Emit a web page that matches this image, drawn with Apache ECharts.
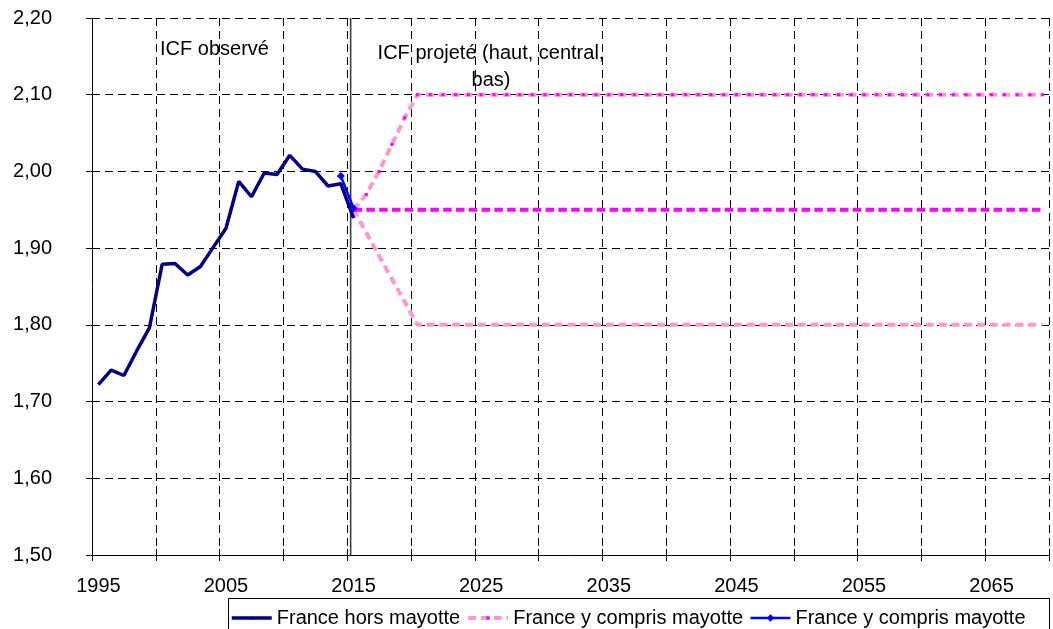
<!DOCTYPE html>
<html>
<head>
<meta charset="utf-8">
<script src="https://cdn.jsdelivr.net/npm/echarts@6/dist/echarts.min.js"></script>
<style>
html,body{margin:0;padding:0;background:#fff;}
#chart{width:1053px;height:629px;}
</style>
</head>
<body>
<div id="chart"></div>
<script>
// ---- Data ----
const categories = [
 '1995','1996','1997','1998','1999','2000','2001','2002','2003','2004',
 '2005','2006','2007','2008','2009','2010','2011','2012','2013','2014',
 '2015','2016','2017','2018','2019','2020','2021','2022','2023','2024',
 '2025','2026','2027','2028','2029','2030','2031','2032','2033','2034',
 '2035','2036','2037','2038','2039','2040','2041','2042','2043','2044',
 '2045','2046','2047','2048','2049','2050','2051','2052','2053','2054',
 '2055','2056','2057','2058','2059','2060','2061','2062','2063','2064',
 '2065','2066','2067','2068','2069'
];
const obsYears = [
 '1995','1996','1997','1998','1999','2000','2001','2002','2003','2004',
 '2005','2006','2007','2008','2009','2010','2011','2012','2013','2014','2015'
];
const franceHorsMayotte = [
 1.722,1.741,1.734,1.766,1.796,1.879,1.880,1.865,1.876,1.901,
 1.926,1.987,1.967,1.998,1.996,2.021,2.003,2.000,1.981,1.984,1.939
];
const mayotteYears = ['2014','2015'];
const franceYComprisMayotte = [1.994,1.952];

const projYears = categories.slice(20); // 2015..2069
const projHaut = [
 1.95,1.97,2.00,2.035,2.07,
 2.10,2.10,2.10,2.10,2.10,2.10,2.10,2.10,2.10,2.10,
 2.10,2.10,2.10,2.10,2.10,2.10,2.10,2.10,2.10,2.10,
 2.10,2.10,2.10,2.10,2.10,2.10,2.10,2.10,2.10,2.10,
 2.10,2.10,2.10,2.10,2.10,2.10,2.10,2.10,2.10,2.10,
 2.10,2.10,2.10,2.10,2.10,2.10,2.10,2.10,2.10,2.10
];
const projCentral = [
 1.95,1.95,1.95,1.95,1.95,
 1.95,1.95,1.95,1.95,1.95,1.95,1.95,1.95,1.95,1.95,
 1.95,1.95,1.95,1.95,1.95,1.95,1.95,1.95,1.95,1.95,
 1.95,1.95,1.95,1.95,1.95,1.95,1.95,1.95,1.95,1.95,
 1.95,1.95,1.95,1.95,1.95,1.95,1.95,1.95,1.95,1.95,
 1.95,1.95,1.95,1.95,1.95,1.95,1.95,1.95,1.95,1.95
];
const projBas = [
 1.95,1.92,1.89,1.86,1.83,
 1.80,1.80,1.80,1.80,1.80,1.80,1.80,1.80,1.80,1.80,
 1.80,1.80,1.80,1.80,1.80,1.80,1.80,1.80,1.80,1.80,
 1.80,1.80,1.80,1.80,1.80,1.80,1.80,1.80,1.80,1.80,
 1.80,1.80,1.80,1.80,1.80,1.80,1.80,1.80,1.80,1.80,
 1.80,1.80,1.80,1.80,1.80,1.80,1.80,1.80,1.80,1.80
];
const dividerYear = 2015.27;
const yRange = [1.5, 2.2];
const annotObserve = 'ICF observé';
const annotProjete = 'ICF projeté (haut, central,\nbas)';

const pairs = (xs, ys) => xs.map((x, i) => [x, ys[i]]);
const FONT = '"Liberation Sans", Arial, sans-serif';

const chart = echarts.init(document.getElementById('chart'), null, {renderer: 'canvas'});
const grid = {left: 92, right: 4, top: 18, bottom: 74};

chart.setOption({
  animation: false,
  backgroundColor: '#fff',
  grid: grid,
  xAxis: [
    {
      type: 'category', data: categories, boundaryGap: true,
      axisLine: {lineStyle: {color: '#000', width: 1}},
      axisTick: {show: true, interval: 4, length: 6, lineStyle: {color: '#000'}},
      axisLabel: {interval: 9, margin: 21, color: '#000', fontSize: 20, fontFamily: FONT},
      splitLine: {show: true, interval: 4, lineStyle: {color: '#000', width: 1, type: [8, 5]}}
    },
    {
      type: 'value', min: 1995, max: 2070, show: false
    },
    {
      type: 'category', data: categories, boundaryGap: true, position: 'bottom',
      axisLine: {show: false},
      axisTick: {show: true, inside: true, interval: 4, length: 6, lineStyle: {color: '#000'}},
      axisLabel: {show: false}, splitLine: {show: false}
    }
  ],
  yAxis: [
    {
      type: 'value', min: yRange[0], max: yRange[1], interval: 0.1,
      axisLine: {show: true, lineStyle: {color: '#000', width: 1}},
      axisTick: {show: true, length: 6, lineStyle: {color: '#000'}},
      axisLabel: {margin: 40, color: '#000', fontSize: 20, fontFamily: FONT,
        formatter: v => v.toFixed(2).replace('.', ',')},
      splitLine: {show: true, lineStyle: {color: '#000', width: 1, type: [8, 5]}}
    },
    {
      type: 'value', min: yRange[0], max: yRange[1], interval: 0.1, position: 'left',
      axisLine: {show: false}, axisLabel: {show: false}, splitLine: {show: false},
      axisTick: {show: true, inside: true, length: 6, lineStyle: {color: '#000'}}
    }
  ],
  legend: {
    left: 230, top: 598, right: 0,
    padding: [10, 0, 10, 0],
    itemGap: 6, itemWidth: 40, itemHeight: 4,
    textStyle: {color: '#000', fontSize: 20, fontFamily: FONT},
    data: [
      {name: 'France hors mayotte', lineStyle: {width: 3.5}},
      {name: 'France y compris mayotte', lineStyle: {width: 4}},
      {name: 'France y compris mayotte ', lineStyle: {width: 2.5},
       itemStyle: {borderColor: '#0000FF', borderWidth: 3}}
    ]
  },
  graphic: [
    {type: 'rect', shape: {x: 228.5, y: 598.5, width: 821, height: 40},
     style: {fill: 'none', stroke: '#000', lineWidth: 1}, silent: true},
    {type: 'text', left: 160, top: 39, style: {text: annotObserve, fill: '#000', font: '20px ' + FONT}},
    {type: 'text', x: 491, y: 40, style: {text: annotProjete, fill: '#000', font: '20px ' + FONT, align: 'center', lineHeight: 27}}
  ],
  series: [
    {
      name: 'Divider', type: 'line', xAxisIndex: 1, silent: true,
      data: [[dividerYear, yRange[0]], [dividerYear, yRange[1]]],
      symbol: 'none', lineStyle: {color: '#404040', width: 1.6}, z: 1
    },
    {
      name: '_bas', type: 'line', data: pairs(projYears, projBas),
      symbol: 'none', lineStyle: {color: '#FF99CC', width: 4, type: [8, 4.8]}, z: 2
    },
    {
      name: 'France y compris mayotte', type: 'line', data: pairs(projYears, projHaut),
      symbol: 'rect', symbolSize: 3, showSymbol: true,
      itemStyle: {color: '#FF00FF'},
      lineStyle: {color: '#FF99CC', width: 4, type: [8, 4.8]}, z: 3
    },
    {
      name: '_central', type: 'line', data: pairs(projYears, projCentral),
      symbol: 'none', lineStyle: {color: '#FF00FF', width: 4, type: [8.5, 4.3]}, z: 4
    },
    {
      name: 'France hors mayotte', type: 'line', data: pairs(obsYears, franceHorsMayotte),
      symbol: 'none', itemStyle: {color: '#000080'},
      lineStyle: {color: '#000080', width: 3.5}, z: 5
    },
    {
      name: 'France y compris mayotte ', type: 'line', data: pairs(mayotteYears, franceYComprisMayotte),
      symbol: 'diamond', symbolSize: 8, showSymbol: true,
      itemStyle: {color: '#0000FF'},
      lineStyle: {color: '#0000FF', width: 2.5}, z: 6
    }
  ]
});
</script>
</body>
</html>
